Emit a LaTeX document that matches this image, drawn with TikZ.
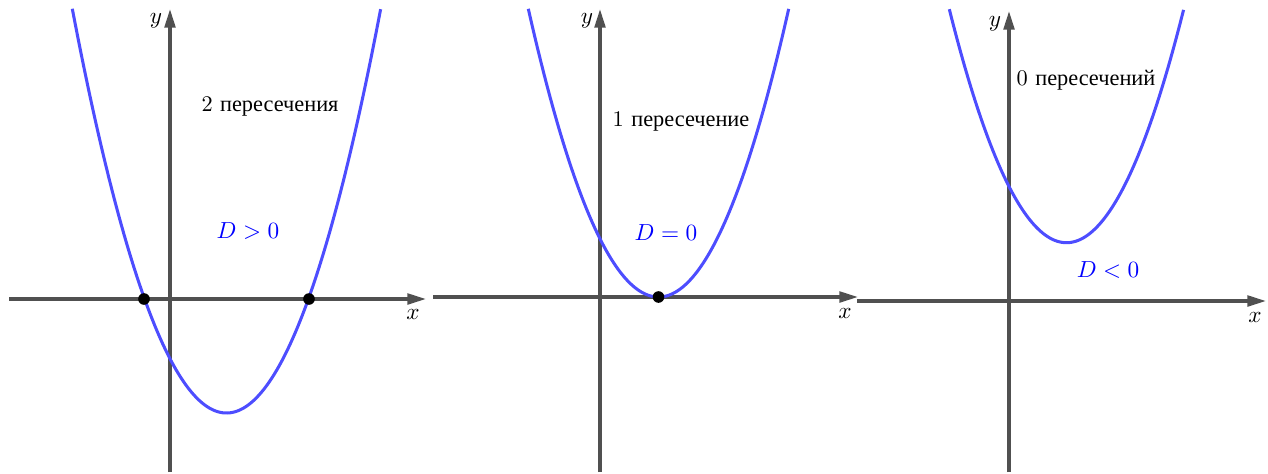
\documentclass[tikz,border=0pt]{standalone}
\usepackage{fontspec}
\newfontfamily\cyr{Liberation Serif}
\usetikzlibrary{arrows.meta}
\definecolor{axisgray}{RGB}{80,80,80}
\definecolor{curveblue}{RGB}{77,77,255}
\tikzset{
  axis/.style={draw=axisgray, line width=1.35pt, -{Triangle[length=8pt,width=4.6pt]}},
  curve/.style={draw=curveblue, line width=1.3pt},
  dot/.style={circle, fill=black, inner sep=0pt, minimum size=5pt},
  lbl/.style={inner sep=0pt, font=\fontsize{9.6}{12}\selectfont},
  dlbl/.style={inner sep=0pt, text=blue, font=\fontsize{9.6}{12}\selectfont},
}
\begin{document}
\begin{tikzpicture}[x=0.43pt, y=-0.43pt]
\useasboundingbox (0,0) rectangle (1268,473);
% ---------- panel 1 ----------
\coordinate (x1s) at (9,299);  \coordinate (x1e) at (426,299);
\coordinate (y1s) at (170,472); \coordinate (y1e) at (170,9);
\draw[axis] (x1s) -- (x1e);
\draw[axis] (y1s) -- (y1e);
\draw[curve] plot[domain=-1.542:1.542, samples=120] ({226.5+100*\x},{413-170*\x*\x});
\node[dot] (r1a) at (144,299) {};
\node[dot] (r1b) at (309,299) {};
\node[lbl] (ylab1) at (156,21) {$y$};
\node[lbl] (xlab1) at (413,314) {$x$};
\node[lbl] (t1) at (270,106) {2 {\cyr пересечения}};
\node[dlbl] (d1) at (248,231) {$D>0$};
% ---------- panel 2 ----------
\coordinate (x2s) at (433,297);  \coordinate (x2e) at (858,297);
\coordinate (y2s) at (600,472); \coordinate (y2e) at (600,9);
\draw[axis] (x2s) -- (x2e);
\draw[axis] (y2s) -- (y2e);
\draw[curve] plot[domain=-1.302:1.302, samples=120] ({658.5+100*\x},{297-170*\x*\x});
\node[dot] (r2) at (658.5,297) {};
\node[lbl] (ylab2) at (587,21) {$y$};
\node[lbl] (xlab2) at (845,313) {$x$};
\node[lbl] (t2) at (681,121) {1 {\cyr пересечение}};
\node[dlbl] (d2) at (666,233) {$D=0$};
% ---------- panel 3 ----------
\coordinate (x3s) at (857,301);  \coordinate (x3e) at (1266,301);
\coordinate (y3s) at (1009,472); \coordinate (y3e) at (1009,11);
\draw[axis] (x3s) -- (x3e);
\draw[axis] (y3s) -- (y3e);
\draw[curve] plot[domain=-1.172:1.172, samples=120] ({1066.5+100*\x},{242.7-170*\x*\x});
\node[lbl] (ylab3) at (995,24) {$y$};
\node[lbl] (xlab3) at (1255,317) {$x$};
\node[lbl] (t3) at (1086,80) {0 {\cyr пересечений}};
\node[dlbl] (d3) at (1108,270) {$D<0$};
\end{tikzpicture}
\end{document}
